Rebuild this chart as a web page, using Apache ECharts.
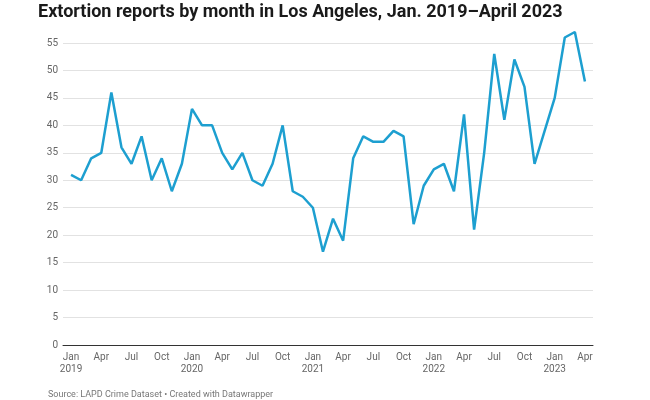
<!DOCTYPE html>
<html>
<head>
<meta charset="utf-8">
<script src="https://cdn.jsdelivr.net/npm/echarts@6/dist/echarts.min.js"></script>
<style>
html,body{margin:0;padding:0;background:#fff;}
#chart{width:650px;height:400px;}
</style>
</head>
<body>
<div id="chart"></div>
<script>
const months = ["Jan","Feb","Mar","Apr","May","Jun","Jul","Aug","Sep","Oct","Nov","Dec"];
const years = [2019, 2020, 2021, 2022, 2023];
const reports2019 = [31, 30, 34, 35, 46, 36, 33, 38, 30, 34, 28, 33];
const reports2020 = [43, 40, 40, 35, 32, 35, 30, 29, 33, 40, 28, 27];
const reports2021 = [25, 17, 23, 19, 34, 38, 37, 37, 39, 38, 22, 29];
const reports2022 = [32, 33, 28, 42, 21, 35, 53, 41, 52, 47, 33, 39];
const reports2023 = [45, 56, 57, 48];
const yTicks = [0, 5, 10, 15, 20, 25, 30, 35, 40, 45, 50, 55];

const values = [].concat(reports2019, reports2020, reports2021, reports2022, reports2023);
const points = values.map((v, i) => [i, v]);
const tickIdx = [];
for (let i = 0; i < values.length; i += 3) tickIdx.push(i);

const chart = echarts.init(document.getElementById('chart'));
chart.setOption({
  animation: false,
  backgroundColor: '#fff',
  title: [{
    text: 'Extortion reports by month in Los Angeles, Jan. 2019\u2013April 2023',
    left: 33, top: -2,
    textStyle: {fontFamily: 'Roboto', fontWeight: 'bold', fontSize: 18, color: '#1a1a1a'}
  }, {
    text: 'Source: LAPD Crime Dataset \u2022 Created with Datawrapper',
    left: 43, top: 385,
    textStyle: {fontFamily: 'Roboto', fontWeight: 'normal', fontSize: 9, color: '#777'}
  }],
  grid: {left: 63, right: 57, top: 43, bottom: 55, containLabel: false},
  xAxis: {
    type: 'value',
    min: -0.8, max: values.length - 1 + 0.8,
    axisLine: {show: true, onZero: false, lineStyle: {color: '#333', width: 1}},
    axisTick: {show: false},
    splitLine: {show: false},
    axisLabel: {
      customValues: tickIdx,
      margin: 6,
      fontFamily: 'Roboto', fontSize: 10, color: '#666', lineHeight: 12,
      formatter: function (v) {
        const i = Math.round(v);
        const m = months[i % 12];
        return (i % 12 === 0) ? m + '\n' + years[Math.floor(i / 12)] : m;
      }
    }
  },
  yAxis: {
    type: 'value',
    min: 0, max: 55, interval: 5,
    axisLine: {show: false},
    axisTick: {show: false},
    axisLabel: {
      customValues: yTicks,
      margin: 5,
      fontFamily: 'Roboto', fontSize: 10, color: '#666'
    },
    splitLine: {lineStyle: {color: '#e2e2e2', width: 1}}
  },
  series: [{
    type: 'line',
    data: points,
    clip: false,
    showSymbol: false,
    symbol: 'none',
    lineStyle: {color: '#1d9fd0', width: 2.5},
    z: 3
  }]
});
</script>
</body>
</html>
